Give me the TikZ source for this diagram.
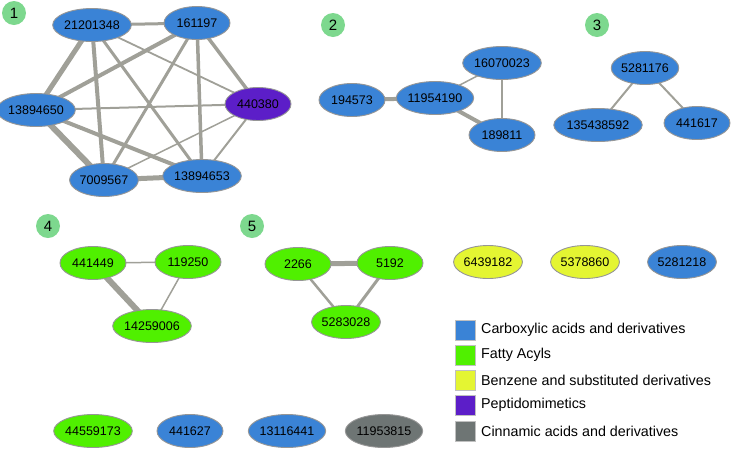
\documentclass[tikz,border=0pt]{standalone}
\usepackage{fontspec}
\setmainfont{Liberation Sans}
\usetikzlibrary{shapes.geometric,backgrounds}
\definecolor{cblue}{RGB}{58,131,214}
\definecolor{cgreen}{RGB}{80,240,0}
\definecolor{cyellow}{RGB}{228,245,50}
\definecolor{cpurple}{RGB}{92,30,200}
\definecolor{cgray}{RGB}{110,117,116}
\definecolor{cedge}{RGB}{160,160,152}
\definecolor{cborder}{RGB}{150,150,150}
\definecolor{cbadge}{RGB}{125,216,142}
\tikzset{
  cmp/.style={ellipse, draw=cborder, line width=0.9pt, minimum width=66pt, minimum height=33pt, inner sep=0pt, font=\fontsize{12.5}{14}\selectfont},
  blu/.style={cmp, fill=cblue},
  grn/.style={cmp, fill=cgreen},
  yel/.style={cmp, fill=cyellow},
  pur/.style={cmp, fill=cpurple},
  gry/.style={cmp, fill=cgray},
  badge/.style={circle, fill=cbadge, minimum size=24pt, inner sep=0pt, font=\fontsize{15}{16}\selectfont},
  ed/.style={draw=cedge, line width=#1},
  legsq/.style={rectangle, draw=cborder!60, line width=0.4pt, minimum size=20pt, inner sep=0pt},
  legtx/.style={anchor=west, inner sep=0pt, font=\fontsize{14.3}{16}\selectfont},
}
\begin{document}
\begin{tikzpicture}[x=1pt,y=-1pt]
\useasboundingbox (0,0) rectangle (734,451);
% badges
\node[badge] (b1) at (14,13) {1};
\node[badge] (b2) at (333,25) {2};
\node[badge] (b3) at (597,25) {3};
\node[badge] (b4) at (48,226) {4};
\node[badge] (b5) at (252,226) {5};
% group 1
\node[blu] (a1) at (92,25) {21201348};
\node[blu] (a2) at (197,23) {161197};
\node[pur] (a3) at (258,104) {440380};
\node[blu] (a4) at (36,110) {13894650};
\node[blu] (a5) at (104,180) {7009567};
\node[blu] (a6) at (202,176) {13894653};
% group 2
\node[blu] (c1) at (502,63) {16070023};
\node[blu] (c2) at (352,100) {194573};
\node[blu] (c3) at (435,98) {11954190};
\node[blu] (c4) at (502,135) {189811};
% group 3
\node[blu] (d1) at (645,68) {5281176};
\node[blu] (d2) at (598,125) {135438592};
\node[blu] (d3) at (697,123) {441617};
% group 4
\node[grn] (e1) at (93,263) {441449};
\node[grn] (e2) at (188,262) {119250};
\node[grn] (e3) at (152,326) {14259006};
% group 5
\node[grn] (f1) at (298,264) {2266};
\node[grn] (f2) at (390,263) {5192};
\node[grn] (f3) at (346,322) {5283028};
% singletons
\node[yel] (s1) at (488,262) {6439182};
\node[yel] (s2) at (585,262) {5378860};
\node[blu] (s3) at (682,262) {5281218};
\node[grn] (s4) at (93,431) {44559173};
\node[blu] (s5) at (190,431) {441627};
\node[blu] (s6) at (287,431) {13116441};
\node[gry] (s7) at (384,431) {11953815};
% legend
\node[legsq, fill=cblue] (l1) at (465,330) {};
\node[legsq, fill=cgreen] (l2) at (465,355) {};
\node[legsq, fill=cyellow] (l3) at (465,380) {};
\node[legsq, fill=cpurple] (l4) at (465,405) {};
\node[legsq, fill=cgray] (l5) at (465,431) {};
\node[legtx] (t1) at (481,330) {Carboxylic acids and derivatives};
\node[legtx] (t2) at (481,355) {Fatty Acyls};
\node[legtx] (t3) at (481,380) {Benzene and substituted derivatives};
\node[legtx] (t4) at (481,405) {Peptidomimetics};
\node[legtx] (t5) at (481,431) {Cinnamic acids and derivatives};
\begin{pgfonlayer}{background}
% group 1 edges
\draw[ed=3pt] (a1.center) -- (a2.center);
\draw[ed=5pt] (a1.center) -- (a4.center);
\draw[ed=4pt] (a1.center) -- (a5.center);
\draw[ed=3pt] (a1.center) -- (a6.center);
\draw[ed=1.8pt] (a1.center) -- (a3.center);
\draw[ed=4pt] (a2.center) -- (a4.center);
\draw[ed=3pt] (a2.center) -- (a5.center);
\draw[ed=3.5pt] (a2.center) -- (a6.center);
\draw[ed=3.5pt] (a2.center) -- (a3.center);
\draw[ed=2pt] (a4.center) -- (a3.center);
\draw[ed=6pt] (a4.center) -- (a5.center);
\draw[ed=4pt] (a4.center) -- (a6.center);
\draw[ed=5pt] (a5.center) -- (a6.center);
\draw[ed=1.5pt] (a5.center) -- (a3.center);
\draw[ed=2pt] (a6.center) -- (a3.center);
% group 2 edges
\draw[ed=4pt] (c2.center) -- (c3.center);
\draw[ed=1.5pt] (c3.center) -- (c1.center);
\draw[ed=1.5pt] (c1.center) -- (c4.center);
\draw[ed=4pt] (c3.center) -- (c4.center);
% group 3 edges
\draw[ed=2pt] (d1.center) -- (d2.center);
\draw[ed=2pt] (d1.center) -- (d3.center);
% group 4 edges
\draw[ed=1.5pt] (e1.center) -- (e2.center);
\draw[ed=6pt] (e1.center) -- (e3.center);
\draw[ed=1.5pt] (e2.center) -- (e3.center);
% group 5 edges
\draw[ed=5pt] (f1.center) -- (f2.center);
\draw[ed=2.5pt] (f1.center) -- (f3.center);
\draw[ed=3pt] (f2.center) -- (f3.center);
\end{pgfonlayer}
\end{tikzpicture}
\end{document}
